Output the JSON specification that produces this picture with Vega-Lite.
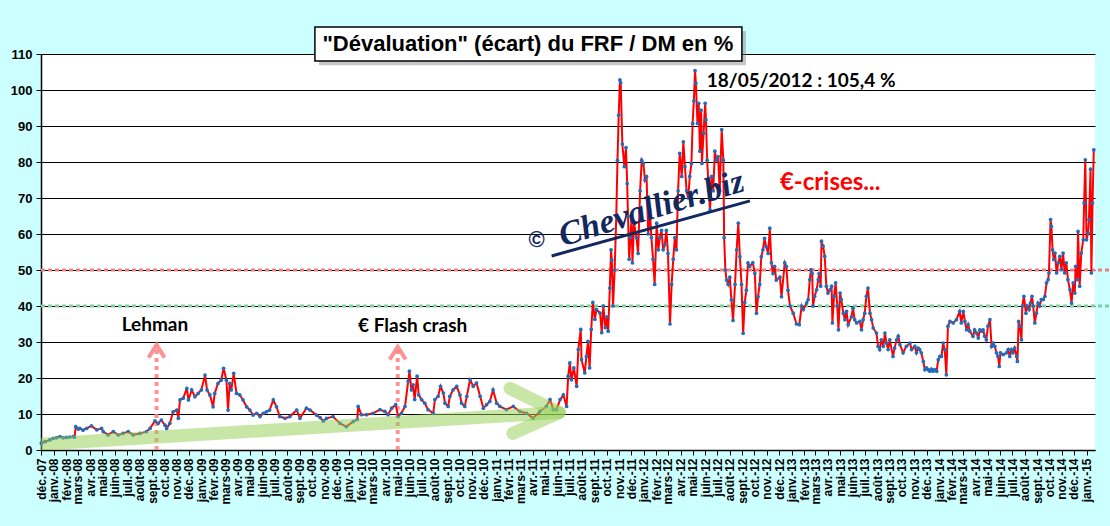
{
  "$schema": "https://vega.github.io/schema/vega-lite/v6.json",
  "autosize": {"type": "none"},
  "width": 1054,
  "height": 396,
  "padding": {"left": 41, "top": 54, "right": 15, "bottom": 76},
  "background": "#CCFFFF",
  "config": {"view": {"fill": "white", "stroke": null}},
  "encoding": {
    "x": {
      "field": "d", "type": "temporal",
      "scale": {"domain": [{"year": 2007, "month": 12, "date": 1}, {"year": 2015, "month": 1, "date": 22}], "nice": false},
      "axis": {
        "title": null,
        "tickCount": {"interval": "month", "step": 1},
        "labelExpr": "['janv.','févr.','mars','avr.','mai','juin','juil.','août','sept.','oct.','nov.','déc.'][month(datum.value)] + '-' + timeFormat(datum.value, '%y')",
        "labelAngle": -90,
        "labelFont": "Liberation Sans",
        "labelFontWeight": "bold",
        "labelFontSize": 12,
        "labelColor": "black",
        "labelOverlap": false,
        "labelBound": false,
        "labelFlush": false,
        "labelPadding": 3,
        "tickColor": "black",
        "tickSize": 5,
        "domainColor": "black",
        "domainWidth": 1.5,
        "grid": false
      }
    },
    "y": {
      "field": "v", "type": "quantitative",
      "scale": {"domain": [0, 110], "nice": false},
      "axis": {
        "title": null,
        "values": [0, 10, 20, 30, 40, 50, 60, 70, 80, 90, 100, 110],
        "labelOverlap": false,
        "grid": true,
        "gridColor": "black",
        "gridWidth": 1.2,
        "tickColor": "black",
        "tickSize": 5,
        "domainColor": "black",
        "domainWidth": 1.5,
        "labelFont": "Liberation Sans",
        "labelFontWeight": "bold",
        "labelFontSize": 13,
        "labelColor": "black",
        "labelPadding": 4
      }
    }
  },
  "layer": [
    {
      "data": {"values": [
        {"d": "2007-12-01", "d2": "2015-02-28", "v": 50, "c": "r"},
        {"d": "2007-12-01", "d2": "2015-02-28", "v": 40, "c": "g"}
      ]},
      "mark": {"type": "rule", "strokeWidth": 3, "strokeDash": [4, 3]},
      "encoding": {
        "x2": {"field": "d2"},
        "color": {"field": "c", "type": "nominal", "scale": {"domain": ["r", "g"], "range": ["#F08080", "#7FD0A0"]}, "legend": null}
      }
    },
    {
      "data": {"values": [
        {"d": "2008-09-12", "v": 0, "v2": 29.2},
        {"d": "2010-05-02", "v": 0, "v2": 28.7}
      ]},
      "mark": {"type": "rule", "color": "#FF8080", "strokeWidth": 4, "strokeDash": [4, 4], "opacity": 0.85},
      "encoding": {"y2": {"field": "v2"}}
    },
    {
      "data": {"values": [
        {"d": "2008-09-12", "v": 29.2},
        {"d": "2010-05-02", "v": 28.7}
      ]},
      "mark": {"type": "point", "shape": "M-1,1.6L0,0L1,1.6", "filled": false, "stroke": "#FF8080", "strokeWidth": 4, "size": 256, "opacity": 0.85}
    },
    {
      "data": {"values": [
        {"d": "2007-12-02", "v": 1.9}, {"d": "2007-12-11", "v": 2.3}, {"d": "2007-12-23", "v": 2.8}, {"d": "2007-12-31", "v": 3.2},
        {"d": "2008-01-08", "v": 3.4}, {"d": "2008-01-17", "v": 3.7}, {"d": "2008-01-25", "v": 3.4}, {"d": "2008-02-02", "v": 3.5},
        {"d": "2008-02-10", "v": 3.6}, {"d": "2008-02-19", "v": 3.7}, {"d": "2008-02-22", "v": 3.6}, {"d": "2008-02-25", "v": 6.5},
        {"d": "2008-03-02", "v": 5.8}, {"d": "2008-03-06", "v": 6.0}, {"d": "2008-03-14", "v": 5.5}, {"d": "2008-03-23", "v": 6.0},
        {"d": "2008-04-04", "v": 6.7}, {"d": "2008-04-17", "v": 5.6}, {"d": "2008-04-29", "v": 6.0}, {"d": "2008-05-03", "v": 5.1},
        {"d": "2008-05-15", "v": 4.2}, {"d": "2008-05-28", "v": 5.1}, {"d": "2008-06-09", "v": 4.2}, {"d": "2008-06-21", "v": 4.6},
        {"d": "2008-07-04", "v": 5.1}, {"d": "2008-07-16", "v": 4.2}, {"d": "2008-08-02", "v": 4.6}, {"d": "2008-08-18", "v": 5.1},
        {"d": "2008-08-27", "v": 6.0}, {"d": "2008-09-08", "v": 8.1}, {"d": "2008-09-16", "v": 7.4}, {"d": "2008-09-24", "v": 8.3},
        {"d": "2008-10-03", "v": 6.9}, {"d": "2008-10-07", "v": 6.0}, {"d": "2008-10-15", "v": 7.4}, {"d": "2008-10-23", "v": 10.6},
        {"d": "2008-11-01", "v": 11.1}, {"d": "2008-11-05", "v": 8.8}, {"d": "2008-11-09", "v": 13.9}, {"d": "2008-11-17", "v": 14.4},
        {"d": "2008-11-26", "v": 17.1}, {"d": "2008-11-30", "v": 13.9}, {"d": "2008-12-08", "v": 16.7}, {"d": "2008-12-16", "v": 14.8},
        {"d": "2008-12-24", "v": 15.7}, {"d": "2009-01-01", "v": 16.7}, {"d": "2009-01-10", "v": 20.8}, {"d": "2009-01-15", "v": 16.7},
        {"d": "2009-01-22", "v": 15.3}, {"d": "2009-01-30", "v": 12.0}, {"d": "2009-02-03", "v": 15.7}, {"d": "2009-02-11", "v": 18.5},
        {"d": "2009-02-19", "v": 19.4}, {"d": "2009-02-25", "v": 22.7}, {"d": "2009-03-04", "v": 19.4}, {"d": "2009-03-08", "v": 11.1},
        {"d": "2009-03-12", "v": 18.5}, {"d": "2009-03-16", "v": 16.7}, {"d": "2009-03-22", "v": 21.3}, {"d": "2009-03-29", "v": 15.7},
        {"d": "2009-04-06", "v": 15.3}, {"d": "2009-04-14", "v": 13.9}, {"d": "2009-04-23", "v": 12.0}, {"d": "2009-05-01", "v": 11.1},
        {"d": "2009-05-09", "v": 9.7}, {"d": "2009-05-18", "v": 10.2}, {"d": "2009-05-26", "v": 9.3}, {"d": "2009-06-03", "v": 10.2},
        {"d": "2009-06-11", "v": 10.6}, {"d": "2009-06-19", "v": 11.1}, {"d": "2009-06-28", "v": 13.9}, {"d": "2009-07-06", "v": 12.0},
        {"d": "2009-07-14", "v": 9.3}, {"d": "2009-07-27", "v": 8.8}, {"d": "2009-08-08", "v": 9.3}, {"d": "2009-08-25", "v": 11.1},
        {"d": "2009-09-02", "v": 8.8}, {"d": "2009-09-18", "v": 11.6}, {"d": "2009-09-27", "v": 11.1}, {"d": "2009-10-13", "v": 9.7},
        {"d": "2009-10-22", "v": 9.0}, {"d": "2009-10-30", "v": 8.0}, {"d": "2009-11-07", "v": 8.8}, {"d": "2009-11-23", "v": 9.3},
        {"d": "2009-12-10", "v": 7.4}, {"d": "2009-12-26", "v": 6.5}, {"d": "2010-01-12", "v": 7.9}, {"d": "2010-01-22", "v": 8.5},
        {"d": "2010-01-24", "v": 12.1}, {"d": "2010-02-01", "v": 9.8}, {"d": "2010-02-14", "v": 9.8}, {"d": "2010-03-02", "v": 10.2},
        {"d": "2010-03-19", "v": 11.2}, {"d": "2010-03-31", "v": 10.7}, {"d": "2010-04-08", "v": 9.8}, {"d": "2010-04-17", "v": 11.6},
        {"d": "2010-04-27", "v": 12.6}, {"d": "2010-05-03", "v": 9.3}, {"d": "2010-05-11", "v": 10.2}, {"d": "2010-05-20", "v": 12.1},
        {"d": "2010-05-28", "v": 19.1}, {"d": "2010-05-31", "v": 21.9}, {"d": "2010-06-05", "v": 16.7}, {"d": "2010-06-09", "v": 18.1},
        {"d": "2010-06-13", "v": 14.0}, {"d": "2010-06-19", "v": 20.5}, {"d": "2010-06-23", "v": 15.3}, {"d": "2010-06-30", "v": 14.0},
        {"d": "2010-07-08", "v": 13.0}, {"d": "2010-07-16", "v": 11.2}, {"d": "2010-07-29", "v": 10.2}, {"d": "2010-08-02", "v": 14.0},
        {"d": "2010-08-10", "v": 14.9}, {"d": "2010-08-16", "v": 17.7}, {"d": "2010-08-23", "v": 15.8}, {"d": "2010-08-27", "v": 13.0},
        {"d": "2010-09-04", "v": 12.1}, {"d": "2010-09-08", "v": 14.9}, {"d": "2010-09-16", "v": 16.7}, {"d": "2010-09-25", "v": 17.7},
        {"d": "2010-10-03", "v": 15.3}, {"d": "2010-10-07", "v": 13.0}, {"d": "2010-10-15", "v": 12.1}, {"d": "2010-10-20", "v": 14.9},
        {"d": "2010-10-28", "v": 19.5}, {"d": "2010-11-05", "v": 17.7}, {"d": "2010-11-13", "v": 18.6}, {"d": "2010-11-22", "v": 14.9},
        {"d": "2010-11-30", "v": 11.6}, {"d": "2010-12-08", "v": 12.6}, {"d": "2010-12-16", "v": 13.5}, {"d": "2010-12-24", "v": 16.7},
        {"d": "2011-01-02", "v": 13.0}, {"d": "2011-01-10", "v": 12.1}, {"d": "2011-01-26", "v": 11.2}, {"d": "2011-02-12", "v": 12.1},
        {"d": "2011-02-28", "v": 10.7}, {"d": "2011-03-17", "v": 10.2}, {"d": "2011-04-02", "v": 8.8}, {"d": "2011-04-19", "v": 10.7},
        {"d": "2011-05-05", "v": 12.1}, {"d": "2011-05-14", "v": 14.0}, {"d": "2011-05-22", "v": 11.2}, {"d": "2011-05-30", "v": 11.2},
        {"d": "2011-06-08", "v": 14.0}, {"d": "2011-06-16", "v": 15.3}, {"d": "2011-06-24", "v": 12.1}, {"d": "2011-06-28", "v": 20.5},
        {"d": "2011-07-02", "v": 24.2}, {"d": "2011-07-06", "v": 19.5}, {"d": "2011-07-12", "v": 22.8}, {"d": "2011-07-19", "v": 17.7},
        {"d": "2011-07-23", "v": 27.9}, {"d": "2011-07-29", "v": 33.5}, {"d": "2011-07-31", "v": 25.1}, {"d": "2011-08-08", "v": 21.4},
        {"d": "2011-08-12", "v": 26.0}, {"d": "2011-08-16", "v": 30.2}, {"d": "2011-08-20", "v": 22.8}, {"d": "2011-08-24", "v": 33.5},
        {"d": "2011-08-28", "v": 41.0}, {"d": "2011-09-02", "v": 36.3}, {"d": "2011-09-06", "v": 39.0}, {"d": "2011-09-15", "v": 38.0},
        {"d": "2011-09-19", "v": 32.6}, {"d": "2011-09-23", "v": 40.0}, {"d": "2011-09-28", "v": 34.0}, {"d": "2011-10-02", "v": 37.0},
        {"d": "2011-10-05", "v": 33.0}, {"d": "2011-10-09", "v": 45.0}, {"d": "2011-10-12", "v": 55.6}, {"d": "2011-10-14", "v": 52.8},
        {"d": "2011-10-17", "v": 40.0}, {"d": "2011-10-21", "v": 50.0}, {"d": "2011-10-25", "v": 65.0}, {"d": "2011-10-28", "v": 80.5},
        {"d": "2011-10-31", "v": 93.0}, {"d": "2011-11-03", "v": 102.8}, {"d": "2011-11-05", "v": 102.0}, {"d": "2011-11-09", "v": 85.0},
        {"d": "2011-11-14", "v": 78.7}, {"d": "2011-11-18", "v": 84.0}, {"d": "2011-11-21", "v": 74.0}, {"d": "2011-11-23", "v": 65.0},
        {"d": "2011-11-26", "v": 53.0}, {"d": "2011-11-29", "v": 59.0}, {"d": "2011-12-02", "v": 65.0}, {"d": "2011-12-04", "v": 52.0},
        {"d": "2011-12-08", "v": 63.0}, {"d": "2011-12-14", "v": 59.0}, {"d": "2011-12-18", "v": 54.6}, {"d": "2011-12-23", "v": 72.0},
        {"d": "2011-12-27", "v": 80.5}, {"d": "2011-12-31", "v": 79.6}, {"d": "2012-01-04", "v": 75.0}, {"d": "2012-01-08", "v": 76.0},
        {"d": "2012-01-12", "v": 60.0}, {"d": "2012-01-16", "v": 66.7}, {"d": "2012-01-20", "v": 59.0}, {"d": "2012-01-24", "v": 53.0},
        {"d": "2012-01-28", "v": 46.0}, {"d": "2012-02-02", "v": 63.0}, {"d": "2012-02-06", "v": 55.6}, {"d": "2012-02-10", "v": 59.0},
        {"d": "2012-02-14", "v": 61.0}, {"d": "2012-02-18", "v": 55.6}, {"d": "2012-02-22", "v": 57.0}, {"d": "2012-02-26", "v": 61.0},
        {"d": "2012-03-01", "v": 54.6}, {"d": "2012-03-06", "v": 35.0}, {"d": "2012-03-10", "v": 46.0}, {"d": "2012-03-14", "v": 53.0},
        {"d": "2012-03-18", "v": 59.0}, {"d": "2012-03-22", "v": 55.6}, {"d": "2012-03-26", "v": 72.0}, {"d": "2012-03-30", "v": 82.4},
        {"d": "2012-04-04", "v": 76.0}, {"d": "2012-04-08", "v": 85.6}, {"d": "2012-04-12", "v": 78.7}, {"d": "2012-04-16", "v": 72.0},
        {"d": "2012-04-20", "v": 70.0}, {"d": "2012-04-24", "v": 76.0}, {"d": "2012-04-28", "v": 79.6}, {"d": "2012-05-01", "v": 90.7},
        {"d": "2012-05-04", "v": 97.0}, {"d": "2012-05-07", "v": 105.4}, {"d": "2012-05-09", "v": 101.9}, {"d": "2012-05-13", "v": 90.7},
        {"d": "2012-05-16", "v": 96.3}, {"d": "2012-05-19", "v": 83.0}, {"d": "2012-05-22", "v": 94.4}, {"d": "2012-05-24", "v": 79.6},
        {"d": "2012-05-28", "v": 88.0}, {"d": "2012-06-01", "v": 96.3}, {"d": "2012-06-03", "v": 91.7}, {"d": "2012-06-06", "v": 80.5},
        {"d": "2012-06-10", "v": 72.0}, {"d": "2012-06-13", "v": 66.7}, {"d": "2012-06-17", "v": 76.0}, {"d": "2012-06-21", "v": 72.0},
        {"d": "2012-06-25", "v": 83.0}, {"d": "2012-06-29", "v": 80.5}, {"d": "2012-07-03", "v": 81.5}, {"d": "2012-07-07", "v": 72.0},
        {"d": "2012-07-12", "v": 89.0}, {"d": "2012-07-16", "v": 80.5}, {"d": "2012-07-18", "v": 59.0}, {"d": "2012-07-21", "v": 50.0},
        {"d": "2012-07-24", "v": 47.2}, {"d": "2012-07-28", "v": 46.0}, {"d": "2012-08-01", "v": 48.0}, {"d": "2012-08-05", "v": 41.7},
        {"d": "2012-08-09", "v": 36.0}, {"d": "2012-08-14", "v": 46.0}, {"d": "2012-08-18", "v": 55.6}, {"d": "2012-08-22", "v": 63.0},
        {"d": "2012-08-26", "v": 53.7}, {"d": "2012-08-30", "v": 46.0}, {"d": "2012-09-03", "v": 32.4}, {"d": "2012-09-07", "v": 41.0},
        {"d": "2012-09-11", "v": 44.4}, {"d": "2012-09-15", "v": 52.0}, {"d": "2012-09-19", "v": 51.0}, {"d": "2012-09-27", "v": 52.0},
        {"d": "2012-10-02", "v": 49.0}, {"d": "2012-10-06", "v": 38.0}, {"d": "2012-10-10", "v": 42.6}, {"d": "2012-10-14", "v": 46.0},
        {"d": "2012-10-18", "v": 53.7}, {"d": "2012-10-22", "v": 55.6}, {"d": "2012-10-26", "v": 58.8}, {"d": "2012-10-30", "v": 56.5},
        {"d": "2012-11-04", "v": 54.6}, {"d": "2012-11-08", "v": 61.6}, {"d": "2012-11-12", "v": 52.0}, {"d": "2012-11-16", "v": 49.0},
        {"d": "2012-11-20", "v": 51.0}, {"d": "2012-11-24", "v": 47.2}, {"d": "2012-12-03", "v": 48.0}, {"d": "2012-12-07", "v": 42.6},
        {"d": "2012-12-15", "v": 52.0}, {"d": "2012-12-19", "v": 51.0}, {"d": "2012-12-23", "v": 44.4}, {"d": "2012-12-28", "v": 40.0},
        {"d": "2013-01-05", "v": 38.0}, {"d": "2013-01-13", "v": 35.0}, {"d": "2013-01-20", "v": 34.8}, {"d": "2013-01-26", "v": 40.0},
        {"d": "2013-01-30", "v": 39.0}, {"d": "2013-02-07", "v": 40.8}, {"d": "2013-02-11", "v": 41.8}, {"d": "2013-02-15", "v": 47.3},
        {"d": "2013-02-18", "v": 50.1}, {"d": "2013-02-21", "v": 49.0}, {"d": "2013-02-23", "v": 40.0}, {"d": "2013-02-27", "v": 42.7},
        {"d": "2013-03-04", "v": 44.5}, {"d": "2013-03-08", "v": 47.3}, {"d": "2013-03-10", "v": 49.0}, {"d": "2013-03-14", "v": 45.5},
        {"d": "2013-03-16", "v": 58.0}, {"d": "2013-03-20", "v": 56.6}, {"d": "2013-03-24", "v": 53.8}, {"d": "2013-03-28", "v": 45.5},
        {"d": "2013-04-01", "v": 43.6}, {"d": "2013-04-06", "v": 44.5}, {"d": "2013-04-10", "v": 45.5}, {"d": "2013-04-12", "v": 35.3},
        {"d": "2013-04-16", "v": 42.7}, {"d": "2013-04-20", "v": 46.4}, {"d": "2013-04-24", "v": 40.0}, {"d": "2013-04-27", "v": 33.4},
        {"d": "2013-05-01", "v": 43.6}, {"d": "2013-05-04", "v": 41.8}, {"d": "2013-05-09", "v": 38.0}, {"d": "2013-05-13", "v": 36.2},
        {"d": "2013-05-17", "v": 38.5}, {"d": "2013-05-21", "v": 34.8}, {"d": "2013-05-29", "v": 37.0}, {"d": "2013-06-02", "v": 39.4},
        {"d": "2013-06-06", "v": 36.2}, {"d": "2013-06-11", "v": 35.3}, {"d": "2013-06-19", "v": 35.7}, {"d": "2013-06-23", "v": 33.4},
        {"d": "2013-06-27", "v": 36.2}, {"d": "2013-07-01", "v": 38.0}, {"d": "2013-07-05", "v": 42.7}, {"d": "2013-07-09", "v": 45.0},
        {"d": "2013-07-14", "v": 38.0}, {"d": "2013-07-18", "v": 36.2}, {"d": "2013-07-22", "v": 33.9}, {"d": "2013-07-30", "v": 32.5},
        {"d": "2013-08-03", "v": 28.8}, {"d": "2013-08-07", "v": 27.9}, {"d": "2013-08-11", "v": 30.6}, {"d": "2013-08-16", "v": 28.8},
        {"d": "2013-08-20", "v": 32.5}, {"d": "2013-08-24", "v": 29.7}, {"d": "2013-08-28", "v": 27.9}, {"d": "2013-09-01", "v": 30.6},
        {"d": "2013-09-09", "v": 26.0}, {"d": "2013-09-13", "v": 28.3}, {"d": "2013-09-18", "v": 30.6}, {"d": "2013-09-22", "v": 31.6},
        {"d": "2013-09-26", "v": 29.3}, {"d": "2013-10-04", "v": 27.0}, {"d": "2013-10-12", "v": 28.8}, {"d": "2013-10-21", "v": 29.7},
        {"d": "2013-10-25", "v": 27.9}, {"d": "2013-11-02", "v": 28.8}, {"d": "2013-11-06", "v": 27.0}, {"d": "2013-11-10", "v": 28.3},
        {"d": "2013-11-14", "v": 27.9}, {"d": "2013-11-18", "v": 27.0}, {"d": "2013-11-23", "v": 24.6}, {"d": "2013-11-27", "v": 22.3},
        {"d": "2013-12-01", "v": 22.8}, {"d": "2013-12-05", "v": 22.3}, {"d": "2013-12-09", "v": 21.9}, {"d": "2013-12-13", "v": 22.5},
        {"d": "2013-12-17", "v": 21.9}, {"d": "2013-12-21", "v": 22.3}, {"d": "2013-12-26", "v": 21.9}, {"d": "2013-12-30", "v": 25.1},
        {"d": "2014-01-03", "v": 26.0}, {"d": "2014-01-07", "v": 26.0}, {"d": "2014-01-11", "v": 29.7}, {"d": "2014-01-15", "v": 27.9},
        {"d": "2014-01-19", "v": 20.9}, {"d": "2014-01-23", "v": 34.4}, {"d": "2014-01-28", "v": 35.7}, {"d": "2014-02-05", "v": 35.3},
        {"d": "2014-02-13", "v": 36.2}, {"d": "2014-02-21", "v": 38.5}, {"d": "2014-02-25", "v": 35.3}, {"d": "2014-03-02", "v": 38.5},
        {"d": "2014-03-06", "v": 35.7}, {"d": "2014-03-10", "v": 33.4}, {"d": "2014-03-14", "v": 34.8}, {"d": "2014-03-18", "v": 33.0},
        {"d": "2014-03-26", "v": 31.6}, {"d": "2014-03-30", "v": 33.4}, {"d": "2014-04-04", "v": 32.5}, {"d": "2014-04-08", "v": 31.1},
        {"d": "2014-04-12", "v": 33.4}, {"d": "2014-04-16", "v": 33.0}, {"d": "2014-04-20", "v": 33.4}, {"d": "2014-04-24", "v": 31.6},
        {"d": "2014-04-28", "v": 30.6}, {"d": "2014-05-02", "v": 34.4}, {"d": "2014-05-07", "v": 36.2}, {"d": "2014-05-11", "v": 28.8},
        {"d": "2014-05-15", "v": 29.7}, {"d": "2014-05-19", "v": 28.8}, {"d": "2014-05-23", "v": 27.0}, {"d": "2014-05-27", "v": 26.0},
        {"d": "2014-05-30", "v": 23.2}, {"d": "2014-06-02", "v": 27.0}, {"d": "2014-06-09", "v": 26.5}, {"d": "2014-06-17", "v": 27.0},
        {"d": "2014-06-21", "v": 27.9}, {"d": "2014-06-25", "v": 26.0}, {"d": "2014-06-29", "v": 27.9}, {"d": "2014-07-03", "v": 27.0},
        {"d": "2014-07-07", "v": 28.3}, {"d": "2014-07-12", "v": 26.0}, {"d": "2014-07-14", "v": 24.6}, {"d": "2014-07-17", "v": 35.7},
        {"d": "2014-07-20", "v": 34.4}, {"d": "2014-07-24", "v": 30.6}, {"d": "2014-07-26", "v": 40.0}, {"d": "2014-07-30", "v": 42.7},
        {"d": "2014-08-04", "v": 38.0}, {"d": "2014-08-07", "v": 40.0}, {"d": "2014-08-12", "v": 39.0}, {"d": "2014-08-15", "v": 40.8},
        {"d": "2014-08-19", "v": 42.7}, {"d": "2014-08-22", "v": 40.0}, {"d": "2014-08-26", "v": 35.3}, {"d": "2014-08-30", "v": 38.0},
        {"d": "2014-09-03", "v": 40.8}, {"d": "2014-09-07", "v": 40.0}, {"d": "2014-09-11", "v": 41.8}, {"d": "2014-09-16", "v": 41.8},
        {"d": "2014-09-20", "v": 42.7}, {"d": "2014-09-24", "v": 46.4}, {"d": "2014-09-28", "v": 47.3}, {"d": "2014-09-30", "v": 49.2},
        {"d": "2014-10-04", "v": 64.0}, {"d": "2014-10-06", "v": 62.1}, {"d": "2014-10-09", "v": 55.6}, {"d": "2014-10-12", "v": 52.9},
        {"d": "2014-10-15", "v": 54.7}, {"d": "2014-10-19", "v": 49.2}, {"d": "2014-10-23", "v": 52.0}, {"d": "2014-10-27", "v": 53.8},
        {"d": "2014-10-31", "v": 50.1}, {"d": "2014-11-04", "v": 54.7}, {"d": "2014-11-08", "v": 49.2}, {"d": "2014-11-12", "v": 52.0},
        {"d": "2014-11-16", "v": 47.3}, {"d": "2014-11-21", "v": 44.5}, {"d": "2014-11-25", "v": 40.8}, {"d": "2014-11-29", "v": 46.4},
        {"d": "2014-12-03", "v": 43.6}, {"d": "2014-12-05", "v": 51.0}, {"d": "2014-12-09", "v": 47.3}, {"d": "2014-12-11", "v": 60.7},
        {"d": "2014-12-15", "v": 45.5}, {"d": "2014-12-19", "v": 54.7}, {"d": "2014-12-24", "v": 58.4}, {"d": "2014-12-26", "v": 68.6},
        {"d": "2014-12-29", "v": 80.6}, {"d": "2015-01-01", "v": 58.4}, {"d": "2015-01-05", "v": 60.3}, {"d": "2015-01-07", "v": 64.0},
        {"d": "2015-01-11", "v": 78.0}, {"d": "2015-01-13", "v": 49.2}, {"d": "2015-01-16", "v": 68.6}, {"d": "2015-01-19", "v": 83.4}
      ]},
      "mark": {"type": "line", "color": "#FF0000", "strokeWidth": 2, "point": {"filled": true, "color": "#1F6EBE", "size": 14}}
    },
    {
      "data": {"values": [
        {"s": "shaft", "o": 1, "d": "2007-12-01", "v": 1.6},
        {"s": "shaft", "o": 2, "d": "2011-06-06", "v": 10.4},
        {"s": "head", "o": 1, "d": "2011-02-04", "v": 17.1},
        {"s": "head", "o": 2, "d": "2011-06-06", "v": 10.4},
        {"s": "head", "o": 3, "d": "2011-02-11", "v": 4.6}
      ]},
      "mark": {"type": "line", "color": "#92D050", "strokeWidth": 13, "opacity": 0.5, "strokeCap": "round", "strokeJoin": "round", "clip": true},
      "encoding": {
        "detail": {"field": "s"},
        "order": {"field": "o"}
      }
    },
    {
      "data": {"values": [
        {"d": "2008-09-08", "v": 34.7, "t": "Lehman"},
        {"d": "2010-06-08", "v": 34.4, "t": "€ Flash crash"}
      ]},
      "mark": {"type": "text", "font": "Lato", "fontWeight": "bold", "fontSize": 19, "color": "black", "align": "center", "baseline": "middle"},
      "encoding": {"text": {"field": "t"}}
    },
    {
      "data": {"values": [{"d": "2012-06-05", "v": 102.5, "t": "18/05/2012 : 105,4 %"}]},
      "mark": {"type": "text", "font": "Lato", "fontWeight": "bold", "fontSize": 19, "color": "black", "align": "left", "baseline": "middle"},
      "encoding": {"text": {"field": "t"}}
    },
    {
      "data": {"values": [{"d": "2012-12-03", "v": 74.2, "t": "€-crises..."}]},
      "mark": {"type": "text", "font": "Lato", "fontWeight": "bold", "fontSize": 24, "color": "#FF0000", "align": "left", "baseline": "middle"},
      "encoding": {"text": {"field": "t"}}
    },
    {
      "data": {"values": [{"d": "2011-05-18", "v": 53.9, "d2": "2012-09-20", "v2": 69.2}]},
      "mark": {"type": "rule", "color": "#13285E", "strokeWidth": 3},
      "encoding": {
        "x2": {"field": "d2"},
        "y2": {"field": "v2"}
      }
    },
    {
      "data": {"values": [{"d": "2012-01-20", "v": 67.0, "t": "Chevallier.biz"}]},
      "mark": {"type": "text", "font": "Liberation Serif", "fontStyle": "italic", "fontWeight": "bold", "fontSize": 34, "color": "#13285E", "align": "center", "baseline": "middle", "angle": -17},
      "encoding": {"text": {"field": "t"}}
    },
    {
      "data": {"values": [{"d": "2011-04-11", "v": 58.3, "t": "©"}]},
      "mark": {"type": "text", "font": "Liberation Sans", "fontWeight": "bold", "fontSize": 22, "color": "#13285E", "align": "center", "baseline": "middle"},
      "encoding": {"text": {"field": "t"}}
    },
    {
      "data": {"values": [{"d": "2009-10-19", "v": 116.4, "d2": "2012-09-10", "v2": 106.9}]},
      "mark": {"type": "rect", "color": "#808080", "opacity": 0.45},
      "encoding": {
        "x2": {"field": "d2"},
        "y2": {"field": "v2"}
      }
    },
    {
      "data": {"values": [{"d": "2009-10-09", "v": 117.5, "d2": "2012-08-31", "v2": 108.06}]},
      "mark": {"type": "rect", "fill": "white", "stroke": "black", "strokeWidth": 1.5},
      "encoding": {
        "x2": {"field": "d2"},
        "y2": {"field": "v2"}
      }
    },
    {
      "data": {"values": [{"d": "2011-03-20", "v": 112.8, "t": "\"Dévaluation\" (écart) du FRF / DM en %"}]},
      "mark": {"type": "text", "font": "Liberation Sans", "fontWeight": "bold", "fontSize": 22, "color": "black", "align": "center", "baseline": "middle"},
      "encoding": {"text": {"field": "t"}}
    }
  ]
}
